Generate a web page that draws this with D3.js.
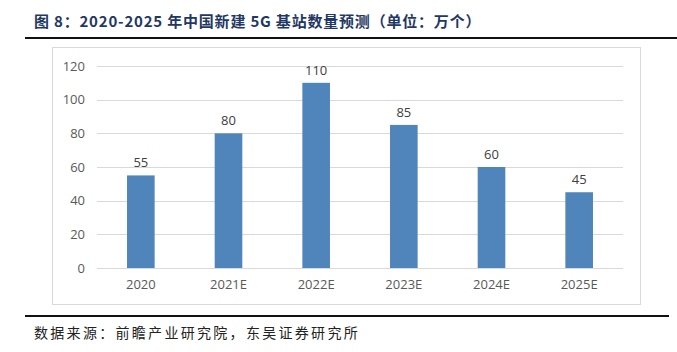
<!DOCTYPE html>
<html><head><meta charset="utf-8">
<script src="https://cdn.jsdelivr.net/npm/d3@7"></script>
<style>body{margin:0;background:#fff}svg{display:block}</style>
</head><body>
<script>
const categories = ["2020","2021E","2022E","2023E","2024E","2025E"];
const values = [55,80,110,85,60,45];
const yTicks = [0,20,40,60,80,100,120];
const titleText = "图 8：2020-2025 年中国新建 5G 基站数量预测（单位：万个）";
const sourceText = "数据来源：前瞻产业研究院，东吴证券研究所";

const W=677,H=352;
const svg=d3.select("body").append("svg").attr("width",W).attr("height",H);
const font='"Open Sans","Liberation Sans",sans-serif';
const cjk='"Noto Sans CJK SC","Noto Sans",sans-serif';

svg.append("text").attr("x",34).attr("y",27).attr("font-family",cjk)
  .attr("font-size",15).attr("letter-spacing",0.8).attr("font-weight","bold").attr("fill","#1f3864").text(titleText);
svg.append("rect").attr("x",25).attr("y",37).attr("width",652).attr("height",2).attr("fill","#111");

svg.append("rect").attr("x",52.5).attr("y",47.5).attr("width",588).attr("height",257)
  .attr("fill","#fff").attr("stroke","#d9d9d9");

const x=d3.scaleBand().domain(categories).range([97,623]).paddingInner(0.685).paddingOuter(0.3425);
const y=d3.scaleLinear().domain([0,120]).range([268,66]);

const g=svg.append("g");
g.selectAll("line.grid").data(yTicks).join("line").attr("class","grid")
  .attr("x1",97).attr("x2",623).attr("y1",d=>Math.round(y(d))+0.5).attr("y2",d=>Math.round(y(d))+0.5)
  .attr("stroke","#d9d9d9").attr("stroke-width",1);

const yAxis=g.append("g").attr("transform","translate(97,0)")
  .call(d3.axisLeft(y).tickValues(yTicks).tickSize(0).tickPadding(12));
yAxis.select(".domain").remove();
yAxis.selectAll("text").attr("font-family",font).attr("font-size",13).attr("fill","#595959");

g.selectAll("rect.bar").data(values).join("rect").attr("class","bar")
  .attr("x",(d,i)=>x(categories[i])).attr("width",x.bandwidth())
  .attr("y",d=>y(d)).attr("height",d=>y(0)-y(d)).attr("fill","#4f85bb");

g.selectAll("text.lbl").data(values).join("text").attr("class","lbl")
  .attr("x",(d,i)=>x(categories[i])+x.bandwidth()/2).attr("y",d=>y(d)-8)
  .attr("text-anchor","middle").attr("font-family",font).attr("font-size",13).attr("fill","#404040").text(d=>d);

const xAxis=g.append("g").attr("transform","translate(0,268)")
  .call(d3.axisBottom(x).tickSize(0).tickPadding(12));
xAxis.select(".domain").remove();
xAxis.selectAll("text").attr("font-family",font).attr("font-size",13).attr("fill","#595959");

svg.append("rect").attr("x",25).attr("y",315).attr("width",644).attr("height",2).attr("fill","#111");
svg.append("text").attr("x",34).attr("y",338).attr("font-family",cjk)
  .attr("font-size",14).attr("letter-spacing",2.3).attr("fill","#222").text(sourceText);
</script>
</body></html>
